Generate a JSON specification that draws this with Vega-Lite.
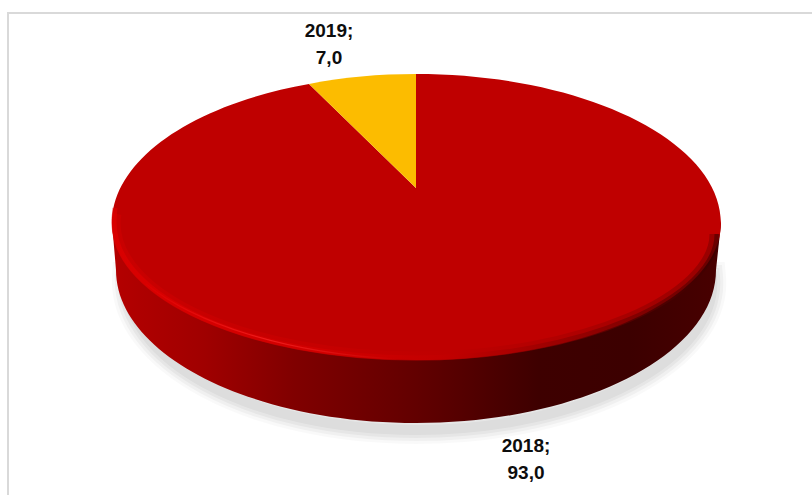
{
"$schema":"https://vega.github.io/schema/vega-lite/v6.json",
"width":812,"height":495,"padding":0,"autosize":{"type":"none"},
"background":"white",
"view":{"stroke":null},
"data":{"values":[{"year":"2018","value":93.0,"label":"2018;\n93,0"},{"year":"2019","value":7.0,"label":"2019;\n7,0"}]},
"encoding":{
 "x":{"datum":0,"type":"quantitative","scale":{"domain":[-416,396],"nice":false,"zero":false},"axis":null},
 "y":{"datum":0,"type":"quantitative","scale":{"domain":[-269,226],"nice":false,"zero":false},"axis":null}
},
"layer":[
 {"transform":[{"filter":"datum.year=='2018'"}],"mark":{"type":"rule","stroke":"#d9d9d9","strokeWidth":2},"encoding":{"x":{"datum":-408,"type":"quantitative"},"y":{"datum":213,"type":"quantitative"},"x2":{"datum":396}}},
 {"transform":[{"filter":"datum.year=='2018'"}],"mark":{"type":"rule","stroke":"#d9d9d9","strokeWidth":2},"encoding":{"x":{"datum":-408,"type":"quantitative"},"y":{"datum":214,"type":"quantitative"},"y2":{"datum":-269}}},
 {"transform":[{"filter":"datum.year=='2018'"}],"mark":{"type":"point","size":4,"filled":false,"fill":"transparent","stroke":"#000","strokeWidth":28,"strokeOpacity":0.025,"opacity":1,"shape":"M-290,50 C-295,132 -168,204 0,204 C168,204 304,132 296,50 Z"}},
 {"transform":[{"filter":"datum.year=='2018'"}],"mark":{"type":"point","size":4,"filled":false,"fill":"transparent","stroke":"#000","strokeWidth":22,"strokeOpacity":0.035,"opacity":1,"shape":"M-290,50 C-295,132 -168,204 0,204 C168,204 304,132 296,50 Z"}},
 {"transform":[{"filter":"datum.year=='2018'"}],"mark":{"type":"point","size":4,"filled":false,"fill":"transparent","stroke":"#000","strokeWidth":16,"strokeOpacity":0.04,"opacity":1,"shape":"M-290,50 C-295,132 -168,204 0,204 C168,204 304,132 296,50 Z"}},
 {"transform":[{"filter":"datum.year=='2018'"}],"mark":{"type":"point","size":4,"filled":false,"fill":"transparent","stroke":"#000","strokeWidth":10,"strokeOpacity":0.04,"opacity":1,"shape":"M-290,50 C-295,132 -168,204 0,204 C168,204 304,132 296,50 Z"}},
 {"transform":[{"filter":"datum.year=='2018'"}],"mark":{"type":"point","size":4,"filled":true,"opacity":1,"stroke":null,"fill":{"gradient":"linear","x1":0,"y1":0,"x2":1,"y2":0,"stops":[{"offset":0,"color":"#b40000"},{"offset":0.15,"color":"#a00000"},{"offset":0.3,"color":"#800000"},{"offset":0.5,"color":"#620000"},{"offset":0.7,"color":"#3e0000"},{"offset":0.85,"color":"#3c0000"},{"offset":1,"color":"#480000"}]},"shape":"M-304,-3 L-300,44 C-300,128 -166,197 0,197 C166,197 300,128 300,44 L305,-3 Z"}},
 {"mark":{"type":"point","size":4,"filled":true,"opacity":1,"stroke":null},"encoding":{
   "shape":{"field":"year","type":"nominal","legend":null,"scale":{"domain":["2018","2019"],"range":["M0,-38 L0,-152 C168,-152 305,-85 305,-3 C305,73 168,134 0,134 C-168,134 -304,73 -304,-3 C-304,-65 -226,-121 -107,-142 Z","M0,-38 L-107,-142 C-73,-149 -37,-152 0,-152 Z"]}},
   "fill":{"field":"year","type":"nominal","legend":null,"scale":{"domain":["2018","2019"],"range":["#bf0000","#fcbc00"]}}
 }},
 {"transform":[{"filter":"datum.year=='2018'"}],"mark":{"type":"point","size":4,"filled":false,"fill":"transparent","opacity":1,"strokeWidth":9,"strokeOpacity":0.3,"stroke":{"gradient":"linear","x1":0,"y1":0,"x2":1,"y2":0,"stops":[{"offset":0,"color":"#e00000"},{"offset":0.35,"color":"#d60000"},{"offset":0.55,"color":"#c00000"},{"offset":0.75,"color":"#900000"},{"offset":1,"color":"#400000"}]},"shape":"M-299,-12 C-300,-8 -300,-5 -300,-3 C-300,70 -166,130 0,130 C166,130 298,70 298,8"}},
 {"transform":[{"filter":"datum.year=='2018'"}],"mark":{"type":"point","size":4,"filled":false,"fill":"transparent","opacity":1,"strokeWidth":5,"strokeOpacity":0.5,"stroke":{"gradient":"linear","x1":0,"y1":0,"x2":1,"y2":0,"stops":[{"offset":0,"color":"#e80000"},{"offset":0.35,"color":"#dc0000"},{"offset":0.55,"color":"#c40000"},{"offset":0.75,"color":"#800000"},{"offset":1,"color":"#380000"}]},"shape":"M-301,-18 C-302,-10 -302,-6 -302,-3 C-302,71 -167,132 0,132 C167,132 301,71 301,8"}},
 {"transform":[{"filter":"datum.year=='2018'"}],"mark":{"type":"point","size":4,"filled":false,"fill":"transparent","opacity":1,"strokeWidth":1.2,"stroke":{"gradient":"linear","x1":0,"y1":0,"x2":1,"y2":0,"stops":[{"offset":0,"color":"#e00000"},{"offset":0.5,"color":"#ff3030"},{"offset":1,"color":"#c80000"}]},"strokeOpacity":0.6,"shape":"M-270,58 C-220,98 -130,127 -20,133"}},
 {"transform":[{"filter":"datum.year=='2019'"}],"mark":{"type":"text","font":"Liberation Sans","fontWeight":"bold","fontSize":19,"lineHeight":27,"align":"center","baseline":"alphabetic","lineBreak":"\n","color":"#0d0d0d"},"encoding":{"x":{"datum":-87,"type":"quantitative"},"y":{"datum":189,"type":"quantitative"},"text":{"field":"label"}}},
 {"transform":[{"filter":"datum.year=='2018'"}],"mark":{"type":"text","font":"Liberation Sans","fontWeight":"bold","fontSize":19,"lineHeight":27,"align":"center","baseline":"alphabetic","lineBreak":"\n","color":"#0d0d0d"},"encoding":{"x":{"datum":110,"type":"quantitative"},"y":{"datum":-226,"type":"quantitative"},"text":{"field":"label"}}}
]
}
